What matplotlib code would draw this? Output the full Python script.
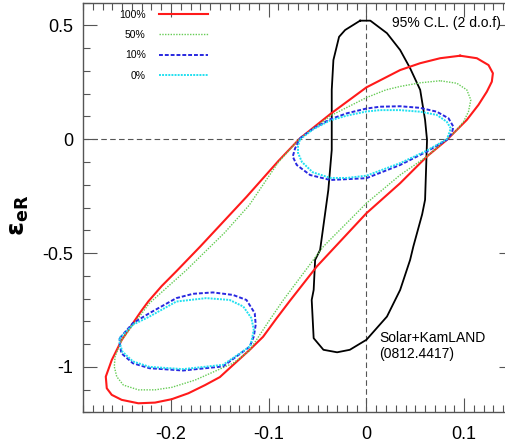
import matplotlib
matplotlib.use("Agg")
import matplotlib.pyplot as plt
from matplotlib.ticker import MultipleLocator, FuncFormatter

plt.rcParams['font.family'] = ['Liberation Sans', 'DejaVu Sans']
plt.rcParams['axes.unicode_minus'] = False

# contornos 95% C.L.
red_x = [0.0959, 0.0754, 0.0549, 0.0345, 0.000, -0.036, -0.068, -0.090, -0.1225, -0.170,
         -0.1945, -0.2095, -0.2231, -0.2300, -0.2367, -0.2504, -0.2606, -0.2667, -0.2657, -0.2606,
         -0.2504, -0.2334, -0.2163, -0.1992, -0.1822, -0.1651, -0.150, -0.136, -0.1194, -0.1058,
         -0.092, -0.078, -0.0508, 0.000, 0.0345, 0.0618, 0.0822, 0.089, 0.1027, 0.1146, 0.1232,
         0.1283, 0.1294, 0.1249, 0.113, 0.0959]
red_y = [0.367, 0.356, 0.334, 0.304, 0.228, 0.114, 0.004, -0.095, -0.252, -0.471,
         -0.580, -0.645, -0.712, -0.752, -0.794, -0.882, -0.970, -1.043, -1.094, -1.123,
         -1.145, -1.160, -1.157, -1.142, -1.116, -1.080, -1.045, -0.990, -0.925, -0.868,
         -0.787, -0.708, -0.559, -0.325, -0.193, -0.076, -0.003, 0.026, 0.085, 0.151, 0.209,
         0.253, 0.290, 0.326, 0.356, 0.367]

green_x = [0.0754, 0.055, 0.0345, 0.020, 0.000, -0.036, -0.068, -0.090, -0.120, -0.145,
           -0.170, -0.184, -0.222, -0.2504, -0.2572, -0.258, -0.2555, -0.2487, -0.2334, -0.2163,
           -0.1992, -0.1753, -0.1365, -0.120, -0.100, -0.085, -0.044, 0.000, 0.0345, 0.0618,
           0.082, 0.0908, 0.0993, 0.1044, 0.1068, 0.1027, 0.0925, 0.0754]
green_y = [0.257, 0.248, 0.232, 0.217, 0.183, 0.105, 0.004, -0.100, -0.290, -0.410,
           -0.515, -0.574, -0.720, -0.882, -0.955, -0.999, -1.043, -1.080, -1.101, -1.101,
           -1.090, -1.058, -0.984, -0.930, -0.800, -0.706, -0.471, -0.281, -0.157, -0.076,
           0.000, 0.033, 0.077, 0.121, 0.173, 0.217, 0.246, 0.257]

blue_up_x = [-0.068, -0.054, -0.037, -0.020, 0.000, 0.014, 0.0345, 0.0549, 0.072, 0.084,
             0.089, 0.0873, 0.0822, 0.0618, 0.0345, 0.000, -0.037, -0.0577, -0.0713, -0.0754,
             -0.073, -0.068]
blue_up_y = [0.004, 0.048, 0.088, 0.114, 0.135, 0.143, 0.145, 0.138, 0.121, 0.092,
             0.055, 0.026, -0.003, -0.054, -0.113, -0.171, -0.179, -0.157, -0.113, -0.076,
             -0.040, 0.004]

cyan_up_x = [-0.068, -0.054, -0.037, -0.020, 0.000, 0.014, 0.0345, 0.0549, 0.072, 0.0822,
             0.0863, 0.084, 0.0822, 0.0618, 0.0345, 0.000, -0.020, -0.037, -0.055, -0.066,
             -0.070, -0.070, -0.068]
cyan_up_y = [0.000, 0.045, 0.083, 0.104, 0.122, 0.128, 0.128, 0.121, 0.107, 0.077,
             0.048, 0.019, 0.000, -0.050, -0.105, -0.160, -0.170, -0.170, -0.145, -0.100,
             -0.060, -0.030, 0.000]

blue_lo_x = [-0.2525, -0.239, -0.222, -0.1945, -0.1774, -0.157, -0.1365, -0.1228, -0.1143, -0.1133,
             -0.1153, -0.1194, -0.1467, -0.1876, -0.222, -0.239, -0.2508, -0.2525, -0.2525]
blue_lo_y = [-0.874, -0.808, -0.764, -0.698, -0.679, -0.673, -0.684, -0.706, -0.764, -0.815,
             -0.867, -0.911, -0.998, -1.016, -1.006, -0.984, -0.940, -0.896, -0.874]

cyan_lo_x = [-0.2525, -0.239, -0.222, -0.1945, -0.164, -0.140, -0.126, -0.1177, -0.1153, -0.1177,
             -0.1194, -0.1467, -0.1876, -0.222, -0.239, -0.2497, -0.2525, -0.2525]
cyan_lo_y = [-0.874, -0.815, -0.779, -0.713, -0.698, -0.706, -0.735, -0.786, -0.837, -0.889,
             -0.911, -0.991, -1.010, -1.000, -0.976, -0.933, -0.896, -0.874]

black_x = [-0.0065, 0.004, 0.021, 0.0345, 0.0447, 0.055, 0.060, 0.062, 0.060, 0.057,
           0.048, 0.0447, 0.0345, 0.021, 0.000, -0.017, -0.030, -0.044, -0.054, -0.056,
           -0.054, -0.0525, -0.0474, -0.039, -0.0355, -0.0355, -0.0355, -0.0338, -0.028, -0.0218,
           -0.0065]
black_y = [0.521, 0.521, 0.466, 0.392, 0.312, 0.217, 0.085, -0.003, -0.266, -0.330,
           -0.471, -0.530, -0.662, -0.779, -0.881, -0.925, -0.936, -0.925, -0.874, -0.706,
           -0.662, -0.530, -0.486, -0.223, -0.047, 0.129, 0.217, 0.348, 0.450, 0.480,
           0.521]

fig = plt.figure(figsize=(5.05, 4.48), dpi=100)
ax = fig.add_axes([0.1644, 0.0795, 0.8515, 0.9145])

ax.axhline(0, color='#555555', lw=0.8, ls=(0, (5, 3)), zorder=1)
ax.axvline(0, color='#555555', lw=0.8, ls=(0, (5, 3)), zorder=1)

ax.plot(black_x, black_y, color='black', lw=1.3, zorder=2)
ax.plot(red_x, red_y, color='#ff1a1a', lw=1.5, label='100%', zorder=3)
ax.plot(green_x, green_y, color='#66cc55', lw=1.0, ls=(0, (1, 1)), label='50%', zorder=3)
ax.plot(blue_up_x, blue_up_y, color='#2828e0', lw=1.4, ls=(0, (2, 1)), label='10%', zorder=3)
ax.plot(blue_lo_x, blue_lo_y, color='#2828e0', lw=1.4, ls=(0, (2, 1)), zorder=3)
ax.plot(cyan_up_x, cyan_up_y, color='#22e0f0', lw=1.4, ls=(0, (1, 0.6)), label='0%', zorder=4)
ax.plot(cyan_lo_x, cyan_lo_y, color='#22e0f0', lw=1.4, ls=(0, (1, 0.6)), zorder=4)

ax.set_xlim(-0.29, 0.15)
ax.set_ylim(-1.2, 0.6)
ax.xaxis.set_major_locator(MultipleLocator(0.1))
ax.xaxis.set_minor_locator(MultipleLocator(0.01))
ax.yaxis.set_major_locator(MultipleLocator(0.5))
ax.yaxis.set_minor_locator(MultipleLocator(0.1))
fmt = FuncFormatter(lambda v, p: '%g' % round(v, 3))
ax.xaxis.set_major_formatter(fmt)
ax.yaxis.set_major_formatter(fmt)
ax.tick_params(which='both', direction='in', top=True, right=True, color='#555555', width=0.8)
ax.tick_params(which='major', length=10, labelsize=13)
ax.tick_params(which='minor', length=5)
ax.tick_params(axis='x', pad=10)
ax.tick_params(axis='y', pad=7)
for s in ax.spines.values():
    s.set_color('#555555')
    s.set_linewidth(1.0)

ax.set_ylabel(r'$\boldsymbol{\varepsilon}_{\mathbf{eR}}$', fontsize=18)
ax.yaxis.set_label_coords(-0.12, 0.48)

ax.text(0.026, 0.511, '95% C.L. (2 d.o.f)', fontsize=10, va='center', ha='left')
ax.text(0.013, -0.908, 'Solar+KamLAND\n(0812.4417)', fontsize=10, va='center', ha='left',
        linespacing=1.25)

ax.legend(loc='upper left', bbox_to_anchor=(0.084, 0.983), frameon=False, markerfirst=False,
          fontsize=7.5, handlelength=4.7, handletextpad=1.3, labelspacing=1.0,
          borderpad=0, borderaxespad=0)

plt.savefig('out.png', dpi=100)
